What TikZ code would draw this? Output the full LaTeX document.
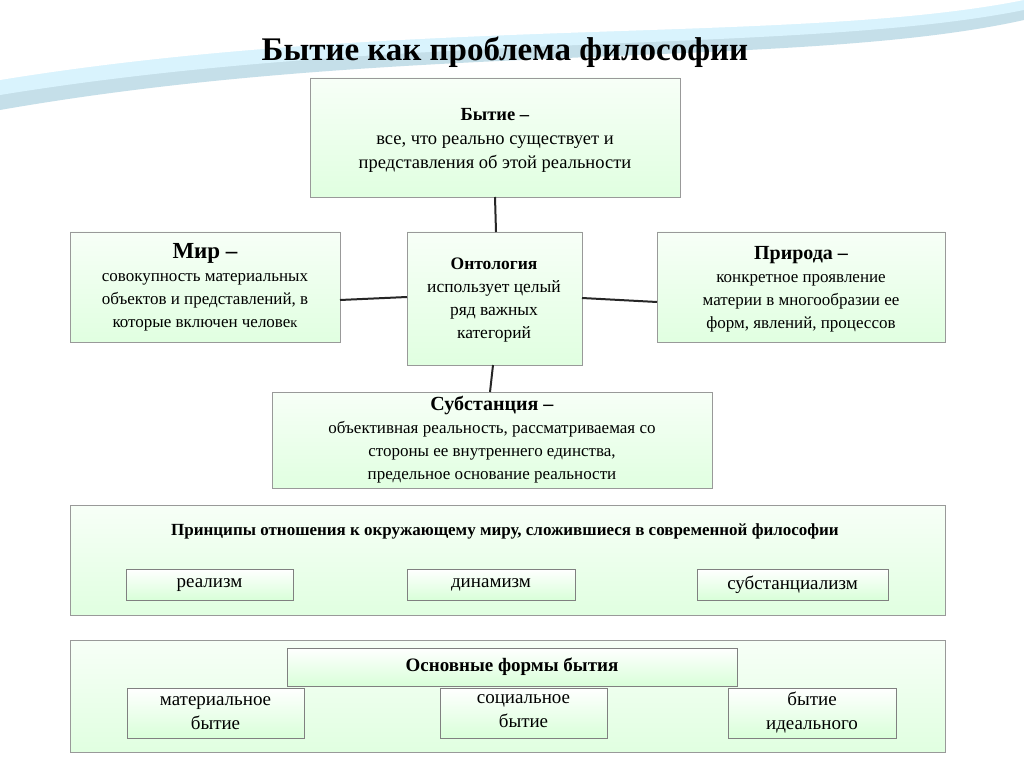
\documentclass[tikz,border=0pt]{standalone}
\usepackage{fontspec}
\setmainfont{Liberation Serif}
\begin{document}
\begin{tikzpicture}[x=1pt,y=-1pt,
  box/.style={draw=black!40,line width=0.8pt,top color=green!3,bottom color=green!12!white},
  sbox/.style={draw=black!50,line width=0.8pt,top color=white,bottom color=green!15!white},
  txt/.style={align=center,font=\fontsize{18}{22}\selectfont},
  con/.style={line width=2pt,black!85}]
\useasboundingbox (0,0) rectangle (1024,767);
\fill[white] (0,0) rectangle (1024,767);
% top wave
\fill[cyan!30!teal!25] (0,0) -- (1024,0) -- (1024,20) .. controls (800,70) and (400,40) .. (0,110) -- cycle;
\fill[cyan!15] (0,0) -- (1024,0) -- (1024,10) .. controls (800,55) and (400,30) .. (0,95) -- cycle;
\fill[white] (0,0) -- (1024,0) .. controls (800,45) and (400,15) .. (0,80) -- cycle;
\node[font=\bfseries\fontsize{33}{36}\selectfont] (title) at (505,52) {Бытие как проблема философии};
% boxes
\path[box] (310,78) rectangle (680,197); \coordinate (top) at (495,197);
\node[txt,font=\fontsize{18.5}{24}\selectfont] at (495,140) {\textbf{Бытие –}\\все, что реально существует и\\представления об этой реальности};
\path[box] (70,232) rectangle (340,342);
\node[txt,font=\fontsize{17}{23}\selectfont] at (205,287) {{\bfseries\fontsize{23}{24}\selectfont Мир –}\\совокупность материальных\\объектов и представлений, в\\которые включен челове{\Large к}};
\path[box] (407,232) rectangle (582,365);
\node[txt,font=\fontsize{17.5}{23}\selectfont] (ont) at (494,300) {\textbf{Онтология}\\использует целый\\ряд важных\\категорий};
\path[box] (657,232) rectangle (945,342);
\node[txt,font=\fontsize{17}{23}\selectfont] at (801,289) {{\bfseries\fontsize{20}{22}\selectfont Природа –}\\конкретное проявление\\материи в многообразии ее\\форм, явлений, процессов};
\path[box] (272,392) rectangle (712,488);
\node[txt,font=\fontsize{17}{23}\selectfont] at (492,440) {{\bfseries\fontsize{20}{22}\selectfont Субстанция –}\\объективная реальность, рассматриваемая со\\стороны ее внутреннего единства,\\предельное основание реальности};
\coordinate (mirR) at (340,300); \coordinate (ontL) at (407,297);
\coordinate (ontR) at (582,298); \coordinate (priL) at (657,302);
\coordinate (ontT) at (496,232); \coordinate (ontB) at (493,365); \coordinate (subT) at (490,392);
\draw[con] (top) -- (ontT); \draw[con] (mirR) -- (ontL); \draw[con] (ontR) -- (priL); \draw[con] (ontB) -- (subT);
% principles
\path[box] (70,505) rectangle (945,615);
\node[txt,font=\bfseries\fontsize{17}{20}\selectfont] at (505,531) {Принципы отношения к окружающему миру, сложившиеся в современной философии};
\path[sbox] (126,569) rectangle (293,600); \node[txt,font=\fontsize{19}{22}\selectfont] at (209.5,585) {реализм};
\path[sbox] (407,569) rectangle (575,600); \node[txt,font=\fontsize{19}{22}\selectfont] at (491,585) {динамизм};
\path[sbox] (697,569) rectangle (888,600); \node[txt,font=\fontsize{19}{22}\selectfont] at (792.5,585) {субстанциализм};
% forms
\path[box] (70,640) rectangle (945,752);
\path[sbox] (287,648) rectangle (737,686); \node[txt,font=\bfseries\fontsize{19}{22}\selectfont] at (512,667) {Основные формы бытия};
\path[sbox] (127,688) rectangle (304,738); \node[txt,font=\fontsize{19}{24}\selectfont] at (215.5,713) {материальное\\бытие};
\path[sbox] (440,688) rectangle (607,738); \node[txt,font=\fontsize{19}{24}\selectfont] at (523.5,711) {социальное\\бытие};
\path[sbox] (728,688) rectangle (896,738); \node[txt,font=\fontsize{19}{24}\selectfont] at (812,713) {бытие\\идеального};
\end{tikzpicture}
\end{document}
